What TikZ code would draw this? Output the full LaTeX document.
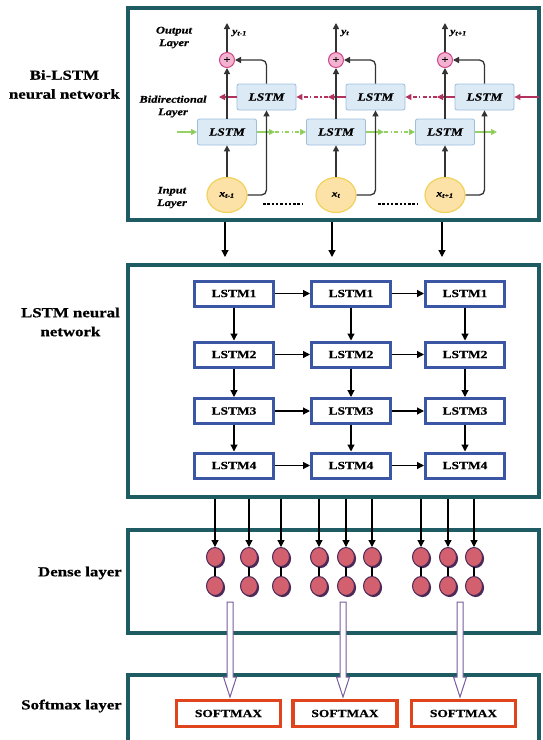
\documentclass[tikz,border=0pt]{standalone}
\usepackage{fontspec}
\setmainfont{Liberation Serif}[FakeStretch=1.22, BoldFeatures={FakeBold=0.6}, BoldItalicFeatures={FakeBold=0.6}]
\usetikzlibrary{arrows.meta,shapes.geometric,shadows}

\definecolor{frameteal}{HTML}{1E5B62}
\definecolor{cellblue}{HTML}{DCEAF6}
\definecolor{cellrim}{HTML}{9DBFDC}
\definecolor{gridblue}{HTML}{3A56A5}
\definecolor{sumpink}{HTML}{F3B3D0}
\definecolor{sumrim}{HTML}{D0488A}
\definecolor{inyellow}{HTML}{FCE2A6}
\definecolor{inrim}{HTML}{F2D15E}
\definecolor{backred}{HTML}{B2325E}
\definecolor{fwdgreen}{HTML}{7CC540}
\definecolor{neuron}{HTML}{D3606E}
\definecolor{neuronrim}{HTML}{4B2A58}
\definecolor{hollowrim}{HTML}{7B5C9E}
\definecolor{softred}{HTML}{E0441C}

\tikzset{
  panel/.style={draw=frameteal, line width=3.2pt},
  sidelabel/.style={font=\fontsize{13.8}{19}\selectfont\bfseries, align=center, anchor=east, inner sep=0pt},
  tinylabel/.style={font=\fontsize{10.2}{12.5}\selectfont\bfseries\itshape, align=center, inner sep=0pt},
  bicell/.style={draw=cellrim, fill=cellblue, rounded corners=2pt, line width=0.8pt,
    minimum width=59pt, minimum height=26pt, inner sep=0pt,
    font=\fontsize{11}{12}\selectfont\bfseries\itshape},
  sumnode/.style={circle, draw=sumrim, fill=sumpink, line width=1pt, minimum size=15pt,
    inner sep=0pt, font=\fontsize{10}{10}\selectfont\bfseries},
  innode/.style={ellipse, draw=inrim, fill=inyellow, line width=1.2pt, minimum width=40pt,
    minimum height=35pt, inner sep=0pt, font=\fontsize{9.5}{10}\selectfont\bfseries\itshape},
  flow/.style={draw=black!80, line width=1.3pt, -{Triangle[length=6pt,width=6pt]}},
  backarrow/.style={draw=backred, line width=1.2pt, -{Triangle[length=6pt,width=6pt]}},
  fwdarrow/.style={draw=fwdgreen!80!white, line width=1.2pt, -{Triangle[length=6pt,width=6pt,fill=fwdgreen]}},
  dashdot/.style={dash pattern=on 4pt off 2.5pt on 1.2pt off 2.5pt},
  gridcell/.style={draw=gridblue, line width=3pt, fill=white, minimum width=79pt,
    minimum height=25pt, inner sep=0pt, font=\fontsize{11}{12}\selectfont\bfseries},
  gridarrow/.style={draw=black, line width=1.2pt, -{Triangle[length=7pt,width=7pt]}},
  neuronnode/.style={ellipse, draw=neuronrim, fill=neuron, line width=1pt, minimum width=17pt,
    minimum height=19pt, inner sep=0pt,
    general shadow={fill=neuronrim, shadow xshift=1.6pt, shadow yshift=-1.6pt}},
  hollowarrow/.style={draw=hollowrim, fill=white, line width=1pt, line join=miter},
  softbox/.style={draw=softred, line width=3.5pt, fill=white, minimum width=104pt,
    minimum height=26pt, inner sep=0pt, font=\fontsize{11}{12}\selectfont\bfseries},
}

\begin{document}
\begin{tikzpicture}[x=1pt, y=-1pt]
  \useasboundingbox (0,0) rectangle (542,740);
  \clip (0,0) rectangle (542,740);
  \fill[white] (0,0) rectangle (542,740);

  % ---- panels ----
  \draw[panel] (128,8) rectangle (539,220);
  \draw[panel] (128,265) rectangle (539,497);
  \draw[panel] (128,530) rectangle (539,633);
  \draw[panel] (128,675) rectangle (539,760);

  % ---- side labels ----
  \node[sidelabel] (labbi) at (120,84.5) {Bi-LSTM\\neural network};
  \node[sidelabel] (lablstm) at (120,322) {LSTM neural\\network};
  \node[sidelabel] (labdense) at (122,573) {Dense layer};
  \node[sidelabel] (labsoft) at (122,706) {Softmax layer};

  % ---- Bi-LSTM block ----
  \node[tinylabel] (outlab) at (174,37.5) {Output\\Layer};
  \node[tinylabel] (bilab) at (173,106.5) {Bidirectional\\Layer};
  \node[tinylabel] (inlab) at (172,197.5) {Input\\Layer};

  \foreach \i/\cx/\sub in {1/227/t-1, 2/336/t, 3/445/t+1} {
    \node[sumnode] (sum\i) at (\cx,60) {+};
    \node[bicell] (bw\i) at (\cx+39.5,97) {LSTM};
    \node[bicell] (fw\i) at (\cx,132) {LSTM};
    \node[innode] (in\i) at (\cx,195) {x\textsubscript{\sub}};
    \coordinate (out\i) at (\cx,23);
    \node[tinylabel, anchor=west, font=\fontsize{9.5}{10}\selectfont\bfseries\itshape] (ylab\i) at (\cx+5,33) {y\textsubscript{\sub}};
    \coordinate (bt\i) at (\cx-8,97);
    \coordinate (ft\i) at (\cx+48,132);
  }
  \coordinate (bstart) at (539,97);
  \coordinate (fstart) at (177,132);
  \coordinate (fend) at (497,132);

  % recurrent links (drawn below the vertical data paths)
  \draw[backarrow] (bstart) -- (bw3.east);
  \foreach \i in {1,2,3} { \draw[backarrow] (bw\i.west) -- (bt\i); }
  \draw[backarrow, dashdot] (bt2) -- (bw1.east);
  \draw[backarrow, dashdot] (bt3) -- (bw2.east);

  \draw[fwdarrow] (fstart) -- (fw1.west);
  \draw[fwdarrow] (fw1.east) -- (ft1);
  \draw[fwdarrow] (fw2.east) -- (ft2);
  \draw[fwdarrow] (fw3.east) -- (fend);
  \draw[fwdarrow, dashdot] (ft1) -- (fw2.west);
  \draw[fwdarrow, dashdot] (ft2) -- (fw3.west);

  \foreach \i in {1,2,3} {
    \draw[flow] (sum\i) -- (out\i);
    \draw[flow] (in\i) -- (fw\i);
    \draw[flow] (fw\i) -- (sum\i);
    \draw[flow, rounded corners=5pt] (in\i.east) -| (bw\i.south);
    \draw[flow, rounded corners=5pt] (bw\i.north) |- (sum\i.east);
  }

  % ellipsis between the inputs
  \coordinate (gapa1) at (263,204); \coordinate (gapa2) at (302,204);
  \coordinate (gapb1) at (378,204); \coordinate (gapb2) at (417,204);
  \draw[line width=1.2pt, dash pattern=on 2.5pt off 1.8pt] (gapa1) -- (gapa2);
  \draw[line width=1.2pt, dash pattern=on 2.5pt off 1.8pt] (gapb1) -- (gapb2);

  % ---- Bi-LSTM to LSTM links ----
  \foreach \k/\x in {1/225, 2/332, 3/442} {
    \coordinate (dn\k) at (\x,221.5);
    \coordinate (up\k) at (\x,257);
    \draw[gridarrow] (dn\k) -- (up\k);
  }

  % ---- stacked LSTM grid ----
  \foreach \r/\y in {1/293.5, 2/354.5, 3/411, 4/465.5} {
    \foreach \c/\x in {1/234, 2/351, 3/465} {
      \node[gridcell] (g\r\c) at (\x,\y) {LSTM\r};
    }
  }
  \foreach \r in {1,2,3,4} {
    \draw[gridarrow] (g\r1) -- (g\r2);
    \draw[gridarrow] (g\r2) -- (g\r3);
  }
  \foreach \c in {1,2,3} {
    \draw[gridarrow] (g1\c) -- (g2\c);
    \draw[gridarrow] (g2\c) -- (g3\c);
    \draw[gridarrow] (g3\c) -- (g4\c);
  }

  % ---- dense layer ----
  \foreach \k/\x in {1/215, 2/249, 3/281, 4/319, 5/346, 6/372, 7/421, 8/448, 9/474} {
    \coordinate (src\k) at (\x,498.5);
    \node[neuronnode] (nt\k) at (\x,557) {};
    \node[neuronnode] (nb\k) at (\x,586) {};
    \draw[line width=1.2pt] (nt\k.south) -- (nb\k.north);
    \draw[gridarrow] (src\k) -- (nt\k.north);
  }

  % ---- softmax layer ----
  \node[softbox] (sm1) at (228.5,713.5) {SOFTMAX};
  \node[softbox] (sm2) at (345,713.5) {SOFTMAX};
  \node[softbox] (sm3) at (463.5,713.5) {SOFTMAX};

  \foreach \k/\x in {1/230, 2/343, 3/460} {
    \draw[hollowarrow] (\x-3,602) -- (\x+3,602) -- (\x+3,677) -- (\x+6.5,677)
      -- (\x,697) -- (\x-6.5,677) -- (\x-3,677) -- cycle;
  }
\end{tikzpicture}
\end{document}
